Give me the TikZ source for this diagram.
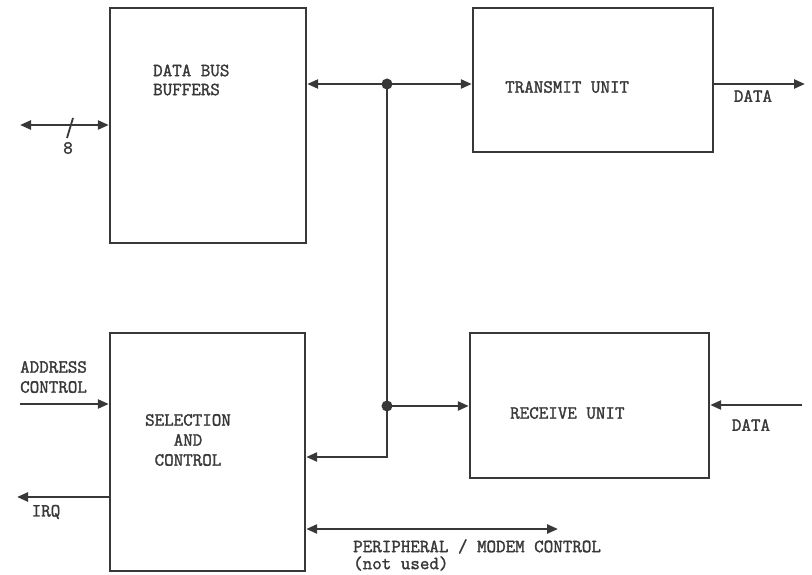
\documentclass[tikz,border=0pt]{standalone}
\usepackage{fontspec}
\usetikzlibrary{arrows.meta}
\definecolor{ink}{gray}{0.22}
\newfontfamily\twf[FakeBold=1.6]{Latin Modern Mono}
\begin{document}
\begin{tikzpicture}[x=1pt,y=-1pt,
  box/.style={draw=ink,line width=2.4pt,rectangle,inner sep=0pt},
  lbl/.style={text=ink,font=\twf\fontsize{18.5}{20}\selectfont,inner sep=0pt},
  conn/.style={draw=ink,line width=2.4pt},
  tip/.style={-{Triangle[length=11pt,width=9pt]}},
  dtip/.style={{Triangle[length=11pt,width=9pt]}-{Triangle[length=11pt,width=9pt]}},
  dot/.style={circle,fill=ink,inner sep=0pt,minimum size=11pt}]
\useasboundingbox (0,0) rectangle (812,575);
\fill[white] (0,0) rectangle (812,575);
% boxes
\node[box,minimum width=196pt,minimum height=235pt] (dbb) at (208,125.5) {};
\node[box,minimum width=240pt,minimum height=144pt] (tu) at (593,80) {};
\node[box,minimum width=195pt,minimum height=238pt] (sc) at (207.5,452) {};
\node[box,minimum width=239pt,minimum height=145pt] (ru) at (589.5,405.5) {};
% box texts
\node[lbl,anchor=west,align=left,font=\twf\fontsize{18.5}{19}\selectfont] (tdbb) at (153,80) {DATA BUS\\BUFFERS};
\node[lbl,anchor=west] (ttu) at (505,87) {TRANSMIT UNIT};
\node[lbl,align=center] (tsc) at (188,440) {SELECTION\\AND\\CONTROL};
\node[lbl,anchor=west] (tru) at (510,413) {RECEIVE UNIT};
% coordinates
\coordinate (l8) at (20,125);
\coordinate (j1) at (387,84);
\coordinate (j2) at (387,406);
\coordinate (j3) at (387,457);
\coordinate (tuo) at (805,84);
\coordinate (rui) at (802,405);
\coordinate (ai) at (20,404);
\coordinate (irq) at (17,497);
\coordinate (pm) at (558,529);
% connectors
\draw[conn,dtip] (l8) -- (dbb.west |- l8);
\draw[conn,line width=1.8pt] (67,138) -- (73,118);
\draw[conn,dtip] (dbb.east |- j1) -- (tu.west |- j1);
\draw[conn,tip] (j1) -- (j3) -- (sc.east |- j3);
\draw[conn,tip] (j2) -- (ru.west |- j2);
\draw[conn,tip] (tu.east |- tuo) -- (tuo);
\draw[conn,tip] (rui) -- (ru.east |- rui);
\draw[conn,tip] (ai) -- (sc.west |- ai);
\draw[conn,tip] (sc.west |- irq) -- (irq);
\draw[conn,dtip] (sc.east |- pm) -- (pm);
\node[dot] (d1) at (j1) {};
\node[dot] (d2) at (j2) {};
% labels
\node[lbl] (n8) at (68,148) {8};
\node[lbl] (dout) at (753,96) {DATA};
\node[lbl] (din) at (751,425) {DATA};
\node[lbl,anchor=west,align=left] (addr) at (20,377) {ADDRESS\\CONTROL};
\node[lbl] (tirq) at (46,512) {IRQ};
\node[lbl,anchor=west,align=left,font=\twf\fontsize{18.5}{17}\selectfont] (per) at (353,555) {PERIPHERAL / MODEM CONTROL\\(not used)};
\end{tikzpicture}
\end{document}
